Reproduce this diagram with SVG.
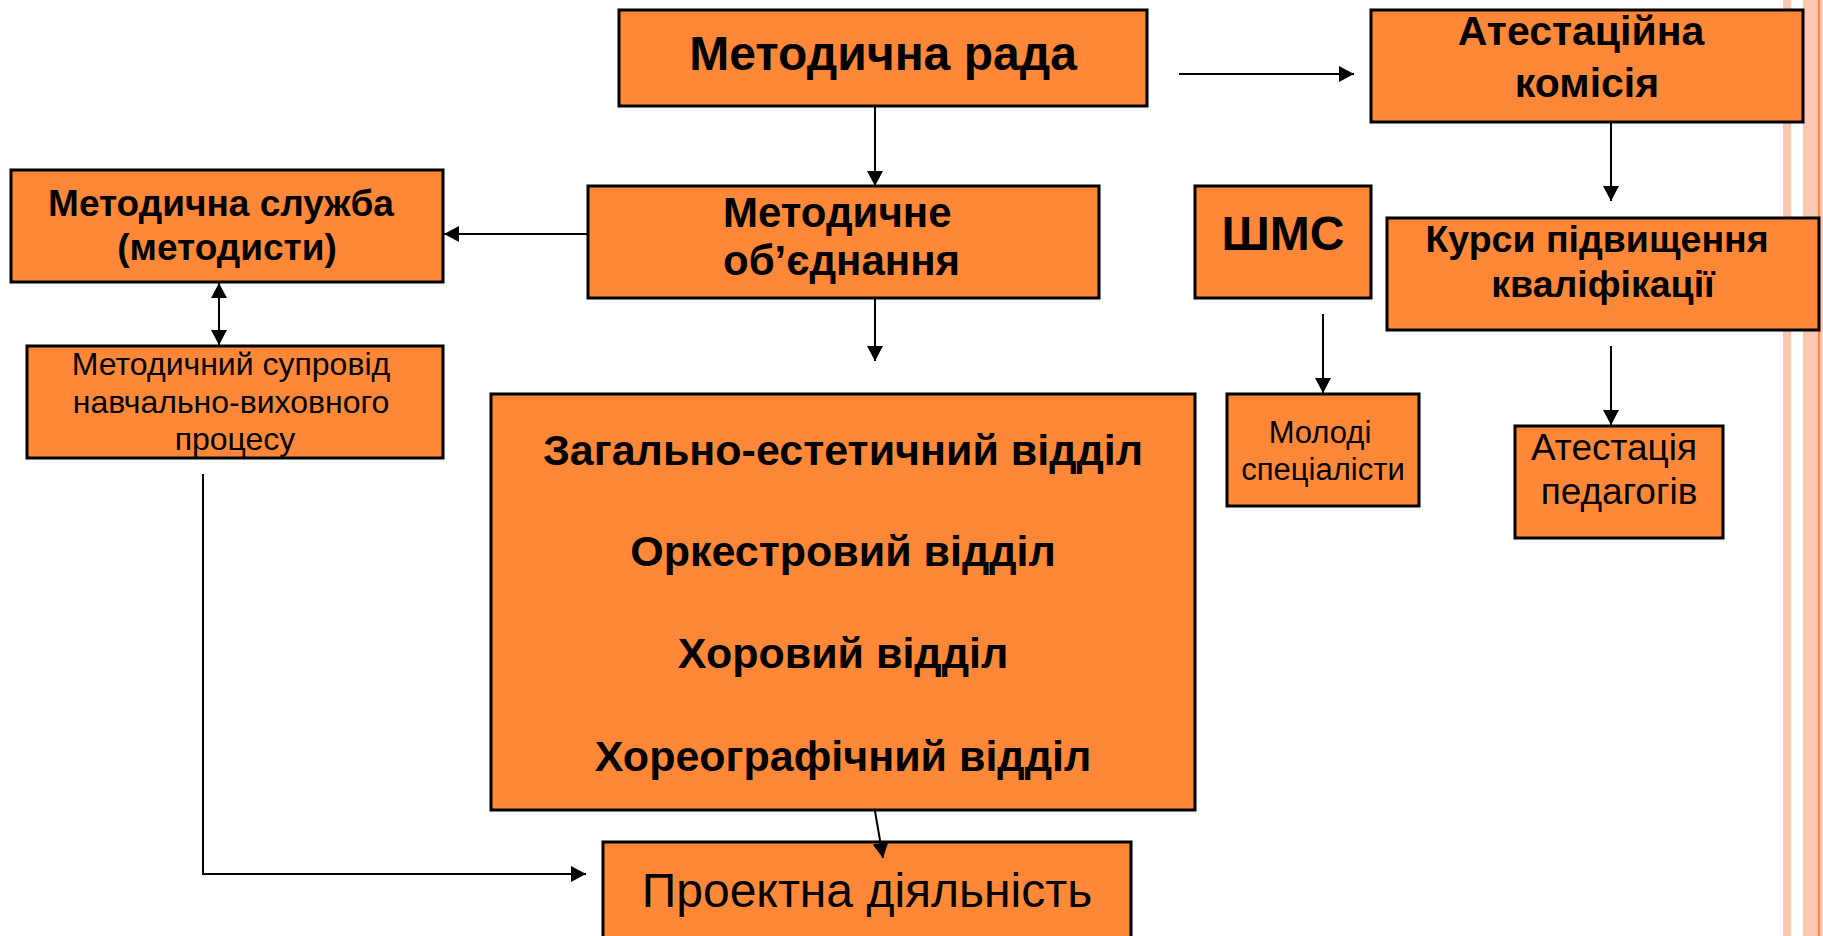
<svg xmlns="http://www.w3.org/2000/svg" width="1823" height="936" viewBox="0 0 1823 936">
<style>
.box{fill:#FF8838;stroke:#000;stroke-width:3}
.b{font-family:"Liberation Sans",Arial,sans-serif;font-weight:bold;fill:#000;text-anchor:middle}
.bs{font-family:"Liberation Sans",Arial,sans-serif;font-weight:bold;fill:#000;text-anchor:start}
.r{font-family:"Liberation Sans",Arial,sans-serif;fill:#000;text-anchor:middle}
.ln{stroke:#000;stroke-width:2;fill:none}
</style>
<defs>
<marker id="ah" viewBox="0 0 15 16" refX="15" refY="8" markerWidth="15" markerHeight="16" markerUnits="userSpaceOnUse" orient="auto-start-reverse">
<path d="M0,0 L15,8 L0,16 Z" fill="#000"/>
</marker>
</defs>
<rect x="0" y="0" width="1823" height="936" fill="#fff"/>
<g id="decor">
<rect x="1783" y="0" width="8" height="936" fill="#FDC8B2"/>
<rect x="1803" y="0" width="20" height="936" fill="#FDC8B2"/>
<rect x="1818" y="0" width="2" height="936" fill="#FF8838"/>
</g>
<g id="metod-rada">
<rect class="box" x="619" y="10" width="528" height="96"/>
<text class="b" x="883" y="70" font-size="48">Методична рада</text>
</g>
<g id="atest-komisia">
<rect class="box" x="1371" y="10" width="432" height="112"/>
<text class="b" x="1581" y="45" font-size="41">Атестаційна</text>
<text class="b" x="1587" y="97" font-size="41">комісія</text>
</g>
<g id="metod-sluzhba">
<rect class="box" x="11" y="170" width="432" height="112"/>
<text class="b" x="221" y="216" font-size="37">Методична служба</text>
<text class="b" x="227" y="260" font-size="37">(методисти)</text>
</g>
<g id="metod-obiednannia">
<rect class="box" x="588" y="186" width="511" height="112"/>
<text class="bs" x="723" y="227" font-size="42">Методичне</text>
<text class="bs" x="723" y="275" font-size="42">об’єднання</text>
</g>
<g id="shms">
<rect class="box" x="1195" y="186" width="176" height="112"/>
<text class="b" x="1283" y="250" font-size="48">ШМС</text>
</g>
<g id="kursy">
<rect class="box" x="1387" y="218" width="432" height="112"/>
<text class="b" x="1597" y="252" font-size="37.5">Курси підвищення</text>
<text class="b" x="1603" y="297" font-size="37.5">кваліфікації</text>
</g>
<g id="suprovid">
<rect class="box" x="27" y="346" width="416" height="112"/>
<text class="r" x="231" y="375" font-size="32">Методичний супровід</text>
<text class="r" x="231" y="413" font-size="32">навчально-виховного</text>
<text class="r" x="235" y="450" font-size="32">процесу</text>
</g>
<g id="viddily">
<rect class="box" x="491" y="394" width="704" height="416"/>
<text class="b" x="843" y="465" font-size="43">Загально-естетичний відділ</text>
<text class="b" x="843" y="566" font-size="43">Оркестровий відділ</text>
<text class="b" x="843" y="668" font-size="43">Хоровий відділ</text>
<text class="b" x="843" y="771" font-size="43">Хореографічний відділ</text>
</g>
<g id="molodi">
<rect class="box" x="1227" y="394" width="192" height="112"/>
<text class="r" x="1320" y="443" font-size="31">Молоді</text>
<text class="r" x="1323" y="480" font-size="31">спеціалісти</text>
</g>
<g id="atestatsia">
<rect class="box" x="1515" y="426" width="208" height="112"/>
<text class="r" x="1614" y="460" font-size="37">Атестація</text>
<text class="r" x="1619" y="504" font-size="37">педагогів</text>
</g>
<g id="proektna">
<rect class="box" x="603" y="842" width="528" height="110"/>
<text class="r" x="867" y="907" font-size="48">Проектна діяльність</text>
</g>
<g id="connectors">
<line class="ln" x1="1179" y1="74" x2="1354" y2="74" marker-end="url(#ah)"/>
<line class="ln" x1="875" y1="107" x2="875" y2="186" marker-end="url(#ah)"/>
<line class="ln" x1="588" y1="234" x2="444" y2="234" marker-end="url(#ah)"/>
<line class="ln" x1="219" y1="283" x2="219" y2="345" marker-start="url(#ah)" marker-end="url(#ah)"/>
<line class="ln" x1="875" y1="299" x2="875" y2="361" marker-end="url(#ah)"/>
<line class="ln" x1="1611" y1="123" x2="1611" y2="201" marker-end="url(#ah)"/>
<line class="ln" x1="1611" y1="346" x2="1611" y2="425" marker-end="url(#ah)"/>
<line class="ln" x1="1323" y1="314" x2="1323" y2="393" marker-end="url(#ah)"/>
<line class="ln" x1="875" y1="811" x2="883" y2="858" marker-end="url(#ah)"/>
<polyline class="ln" points="203,474 203,874 586,874" marker-end="url(#ah)"/>
</g>
</svg>
